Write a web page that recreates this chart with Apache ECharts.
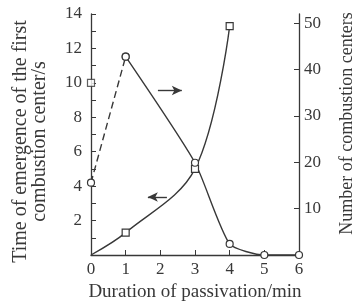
<!DOCTYPE html>
<html>
<head>
<meta charset="utf-8">
<script src="https://cdn.jsdelivr.net/npm/echarts@6/dist/echarts.min.js"></script>
<style>
  html, body { margin: 0; padding: 0; background: #fff; }
  #chart { width: 353px; height: 304px; }
</style>
</head>
<body>
<div id="chart"></div>
<script>
// passivation time (min) -> time of emergence of first combustion center (s), left axis
const timeX = [0, 1, 3, 4];
const timeY = [0, 1.3, 5.0, 13.3];
// lone square on the left axis
const timeExtra = [[0, 10]];

// number of combustion centers, right axis
const countDashX = [0, 1];
const countDashY = [15.6, 42.8];
const countX = [1, 3, 4, 5, 6];
const countY = [42.8, 19.9, 2.4, 0, 0];

// arrows pointing at the axis each curve belongs to [x0, y0, x1, y1]
const arrowToRight = [1.93, 35.5, 2.62, 35.5];   // right axis units
const arrowToLeft = [2.19, 3.37, 1.64, 3.37];    // left axis units

const xTicks = [0, 1, 2, 3, 4, 5, 6];
const rightTicks = [10, 20, 30, 40, 50];

const ink = '#383838';
const font = '"Liberation Serif", "DejaVu Serif", serif';

const zip = (xs, ys) => xs.map((x, i) => [x, ys[i]]);

const chart = echarts.init(document.getElementById('chart'));

const arrowLine = a => ({
  silent: true,
  symbol: ['none', 'arrow'],
  symbolSize: [7, 10],
  label: { show: false },
  lineStyle: { color: ink, width: 1.4, type: 'solid' },
  data: [[{ coord: [a[0], a[1]] }, { coord: [a[2], a[3]] }]]
});

chart.setOption({
  animation: false,
  backgroundColor: '#fff',
  grid: { left: 91, right: 54, top: 14, bottom: 49, outerBoundsMode: 'none', containLabel: false },
  xAxis: {
    type: 'value',
    min: 0, max: 6, interval: 1,
    name: 'Duration of passivation/min',
    nameLocation: 'middle',
    nameGap: 27,
    nameTextStyle: { fontFamily: font, fontSize: 19, color: ink },
    axisLine: { lineStyle: { color: ink, width: 1.3 } },
    axisTick: { inside: true, length: 5, lineStyle: { color: ink } },
    axisLabel: { fontFamily: font, fontSize: 17, color: ink, margin: 6,
      customValues: xTicks },
    splitLine: { show: false }
  },
  yAxis: [
    {
      type: 'value',
      min: 0, max: 14, interval: 2,
      name: 'Time of emergence of the first\ncombustion center/s',
      nameLocation: 'middle',
      nameRotate: 90,
      nameGap: 42,
      nameTextStyle: { fontFamily: font, fontSize: 20, color: ink, lineHeight: 19,
        padding: [0, 14, 0, 0] },
      axisLine: { show: true, lineStyle: { color: ink, width: 1.3 } },
      axisTick: { inside: true, length: 5, lineStyle: { color: ink } },
      minorTick: { show: true, splitNumber: 2, length: 5, lineStyle: { color: ink } },
      axisLabel: { fontFamily: font, fontSize: 17, color: ink, margin: 9, showMinLabel: false },
      splitLine: { show: false }
    },
    {
      type: 'value',
      position: 'right',
      min: 0, max: 52,
      name: 'Number of combustion centers',
      nameLocation: 'middle',
      nameRotate: 90,
      nameGap: 39,
      nameTextStyle: { fontFamily: font, fontSize: 18, color: ink,
        padding: [0, 0, 0, 22] },
      axisLine: { show: true, lineStyle: { color: ink, width: 1.3 } },
      axisTick: { inside: true, length: 5, lineStyle: { color: ink }, customValues: rightTicks },
      axisLabel: { fontFamily: font, fontSize: 17, color: ink, margin: 5, customValues: rightTicks },
      splitLine: { show: false }
    }
  ],
  series: [
    {
      name: 'time',
      type: 'line',
      yAxisIndex: 0,
      smooth: 0.35,
      data: zip(timeX, timeY).map((p, i) => i === 0 ? { value: p, symbol: 'none' } : p),
      symbol: 'rect',
      symbolSize: 7,
      itemStyle: { color: '#fff', borderColor: ink, borderWidth: 1.2 },
      lineStyle: { color: ink, width: 1.4 },
      markLine: arrowLine(arrowToLeft),
      z: 3
    },
    {
      name: 'time extra',
      type: 'scatter',
      yAxisIndex: 0,
      data: timeExtra,
      symbol: 'rect',
      symbolSize: 7,
      itemStyle: { color: '#fff', borderColor: ink, borderWidth: 1.2 },
      z: 4
    },
    {
      name: 'count dashed',
      type: 'line',
      yAxisIndex: 1,
      data: zip(countDashX, countDashY),
      symbol: 'circle',
      symbolSize: 7,
      itemStyle: { color: '#fff', borderColor: ink, borderWidth: 1.2 },
      lineStyle: { color: ink, width: 1.4, type: [7, 4] },
      z: 3
    },
    {
      name: 'count',
      type: 'line',
      yAxisIndex: 1,
      smooth: 0.2,
      data: zip(countX, countY),
      symbol: 'circle',
      symbolSize: 7,
      itemStyle: { color: '#fff', borderColor: ink, borderWidth: 1.2 },
      lineStyle: { color: ink, width: 1.4 },
      markLine: arrowLine(arrowToRight),
      z: 3
    }
  ]
});
</script>
</body>
</html>
